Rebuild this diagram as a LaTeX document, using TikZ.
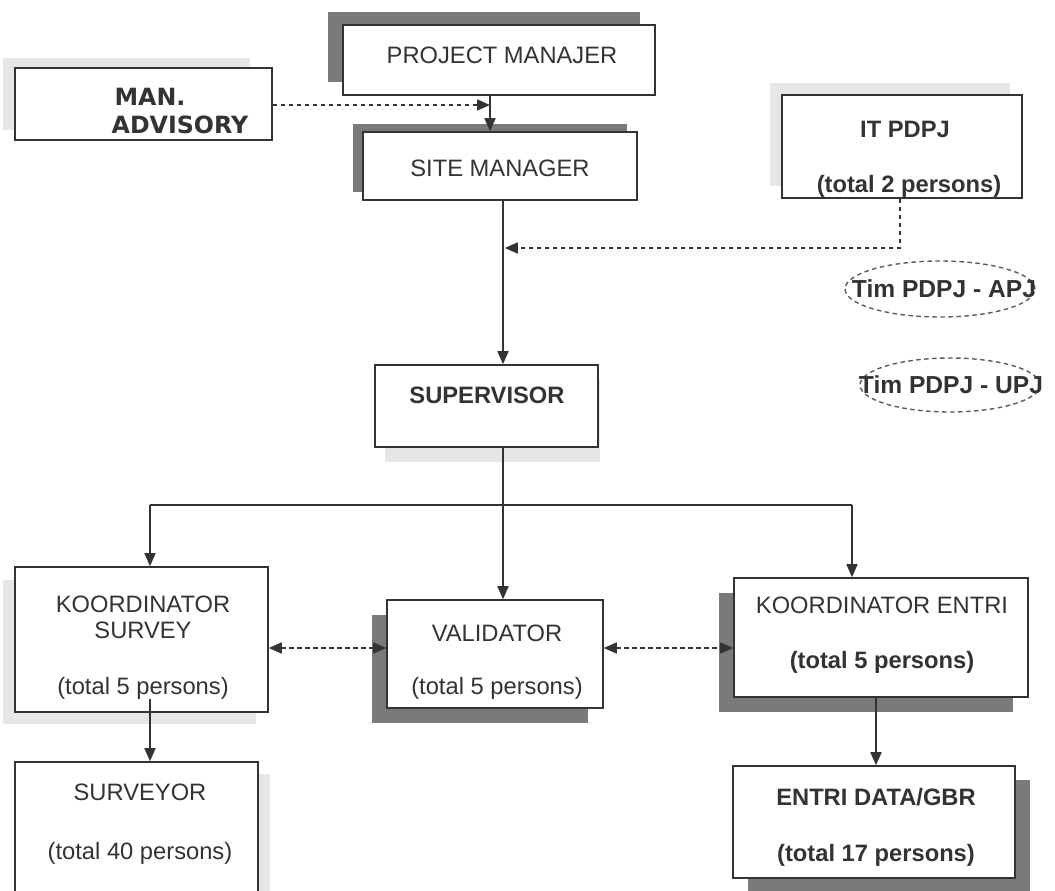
\documentclass[tikz,border=0pt]{standalone}
\usepackage{fontspec}
\setmainfont{Liberation Sans}
\newfontfamily\advfont{DejaVu Sans}
\usetikzlibrary{arrows.meta,shapes.geometric}
\definecolor{ink}{HTML}{333333}
\definecolor{shadedark}{HTML}{7A7A7A}
\definecolor{shadelight}{HTML}{E6E6E6}
\tikzset{
  box/.style={draw=ink, line width=0.9pt, fill=white, rectangle, inner sep=0pt},
  darkshade/.style={fill=shadedark, draw=none},
  lightshade/.style={fill=shadelight, draw=none},
  txt/.style={text=ink, font=\fontsize{13.5}{15}\selectfont, inner sep=0pt},
  btxt/.style={txt, font=\fontsize{13.5}{15}\selectfont\bfseries},
  advtxt/.style={txt, font=\advfont\fontsize{13.5}{15}\selectfont\bfseries},
  timtxt/.style={text=ink, font=\fontsize{14}{16}\selectfont\bfseries, inner sep=0pt},
  line/.style={draw=ink, line width=0.9pt},
  tip/.style={-{Triangle[length=2.6mm,width=2.2mm]}},
  arr/.style={line, tip},
  darr/.style={line, dash pattern=on 0.09cm off 0.07cm, tip},
  dbiarr/.style={line, dash pattern=on 0.09cm off 0.07cm, {Triangle[length=2.6mm,width=2.2mm]}-{Triangle[length=2.6mm,width=2.2mm]}},
  oval/.style={ellipse, draw=ink!80, line width=0.8pt, dash pattern=on 0.09cm off 0.07cm, inner sep=0pt}
}
\begin{document}
\begin{tikzpicture}[x=0.02cm,y=-0.02cm]
\clip (0,0) rectangle (1055,891);
\fill[white] (0,0) rectangle (1055,891);

% shadows behind the boxes
\fill[darkshade]  (328,12) rectangle (640,82);    % project manajer
\fill[darkshade]  (353,124) rectangle (627,192);  % site manager
\fill[lightshade] (3,58) rectangle (250,130);     % man. advisory
\fill[lightshade] (770,83) rectangle (1010,186);  % it pdpj
\fill[lightshade] (385,380) rectangle (600,462);  % supervisor
\fill[lightshade] (3,580) rectangle (256,724);    % koordinator survey
\fill[darkshade]  (372,615) rectangle (588,723);  % validator
\fill[darkshade]  (719,593) rectangle (1013,712); % koordinator entri
\fill[lightshade] (27,774) rectangle (270,905);   % surveyor
\fill[darkshade]  (748,780) rectangle (1030,893); % entri data

% boxes
\node[box, minimum width=6.24cm, minimum height=1.40cm] (pm)  at (499,60) {};
\node[box, minimum width=5.48cm, minimum height=1.36cm] (sm)  at (500,166) {};
\node[box, minimum width=5.14cm, minimum height=1.44cm] (man) at (143.5,104) {};
\node[box, minimum width=4.80cm, minimum height=2.06cm] (it)  at (902,146.5) {};
\node[box, minimum width=4.46cm, minimum height=1.64cm] (sup) at (486.5,406) {};
\node[box, minimum width=5.06cm, minimum height=2.90cm] (ks)  at (141.5,639.5) {};
\node[box, minimum width=4.32cm, minimum height=2.16cm] (val) at (495,654) {};
\node[box, minimum width=5.88cm, minimum height=2.38cm] (ke)  at (881,637.5) {};
\node[box, minimum width=4.86cm, minimum height=2.86cm] (sur) at (136.5,833.5) {};
\node[box, minimum width=5.64cm, minimum height=2.24cm] (ed)  at (874,822) {};

% ellipses
\node[oval, minimum width=3.8cm, minimum height=1.12cm] (apj) at (940,289) {};
\node[oval, minimum width=3.6cm, minimum height=1.08cm] (upj) at (950,385) {};

% texts
\node[txt]    (pmt)   at (502,55) {PROJECT MANAJER};
\node[txt]    (smt)   at (500,168) {SITE MANAGER};
\node[advtxt] (mant1) at (150,97) {MAN.};
\node[advtxt] (mant2) at (180,125) {ADVISORY};
\node[btxt]   (itt1)  at (905,129) {IT PDPJ};
\node[btxt]   (itt2)  at (909,186) {(total 2 persons)};
\node[timtxt] (apjt)  at (944,289) {Tim PDPJ - APJ};
\node[timtxt] (upjt)  at (951,385) {Tim PDPJ - UPJ};
\node[btxt]   (supt)  at (487,395) {SUPERVISOR};
\node[txt]    (kst1)  at (143,604) {KOORDINATOR};
\node[txt]    (kst2)  at (143,630) {SURVEY};
\node[txt]    (kst3)  at (143,688) {(total 5 persons)};
\node[txt]    (valt1) at (497,633) {VALIDATOR};
\node[txt]    (valt2) at (497,688) {(total 5 persons)};
\node[txt]    (ket1)  at (882,605) {KOORDINATOR ENTRI};
\node[btxt]   (ket2)  at (882,662) {(total 5 persons)};
\node[txt]    (surt1) at (140,792) {SURVEYOR};
\node[txt]    (surt2) at (140,853) {(total 40 persons)};
\node[btxt]   (edt1)  at (876,797) {ENTRI DATA/GBR};
\node[btxt]   (edt2)  at (876,855) {(total 17 persons)};

% connector guide points
\coordinate (xpm)  at (490,0);
\coordinate (xmid) at (503,0);
\coordinate (xks)  at (150,0);
\coordinate (xke)  at (852,0);
\coordinate (xed)  at (876,0);
\coordinate (xit)  at (900,0);
\coordinate (ydash) at (0,248);
\coordinate (ybus)  at (0,505);
\coordinate (ylink) at (0,648);
\coordinate (yadv)  at (0,105);

% connectors
\draw[arr]  (pm.south -| xpm) -- (sm.north -| xpm);
\draw[darr] (man.east |- yadv) -- (xpm |- yadv);
\draw[arr]  (sm.south -| xmid) -- (sup.north -| xmid);
\draw[darr] (it.south -| xit) -- (xit |- ydash) -- ([xshift=1pt]xmid |- ydash);
\draw[line] (sup.south -| xmid) -- (xmid |- ybus);
\draw[line] (xks |- ybus) -- (xke |- ybus);
\draw[arr]  (xks |- ybus) -- (ks.north -| xks);
\draw[arr]  (xmid |- ybus) -- (val.north -| xmid);
\draw[arr]  (xke |- ybus) -- (ke.north -| xke);
\draw[dbiarr] (ks.east |- ylink) -- (val.west |- ylink);
\draw[dbiarr] (val.east |- ylink) -- (ke.west |- ylink);
\draw[arr]  (kst3.south -| xks) -- (sur.north -| xks);
\draw[arr]  (ke.south -| xed) -- (ed.north -| xed);
\end{tikzpicture}
\end{document}
